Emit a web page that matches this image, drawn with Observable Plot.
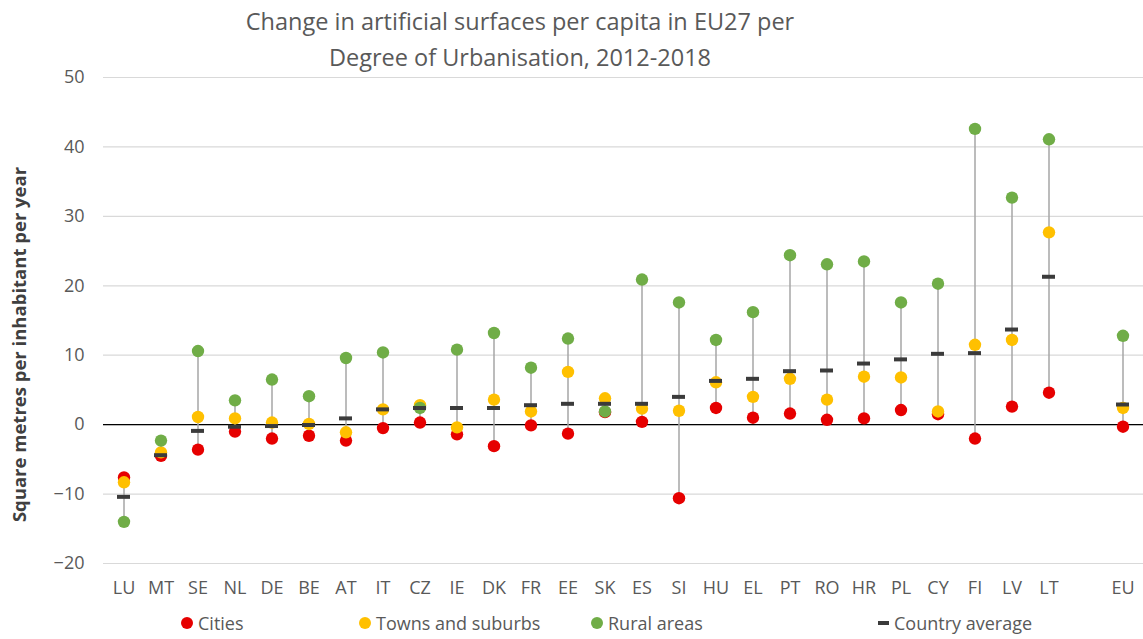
<!DOCTYPE html>
<html>
<head>
<meta charset="utf-8">
<script src="https://cdn.jsdelivr.net/npm/d3@7"></script>
<script src="https://cdn.jsdelivr.net/npm/@observablehq/plot@0.6"></script>
<style>
  body { margin: 0; background: #fff; font-family: "Open Sans", sans-serif; color: #595959; }
  #wrap { position: relative; width: 1143px; height: 639px; overflow: hidden; }
  #title { position: absolute; left: 0; top: 3px; width: 1040px; text-align: center; font-size: 23.5px; line-height: 36px; color: #595959; }
  #chart { position: absolute; left: 0; top: 62px; }
  .leg { position: absolute; top: 611px; font-size: 18px; color: #595959; display: flex; align-items: center; white-space: nowrap; }
  .leg .dot { width: 12px; height: 12px; border-radius: 50%; margin-right: 5px; }
  .leg .bar { width: 11px; height: 4px; background: #3b3b3b; margin-right: 5px; }
</style>
</head>
<body>
<div id="wrap">
  <div id="title">Change in artificial surfaces per capita in EU27 per<br>Degree of Urbanisation, 2012-2018</div>
  <div id="chart"></div>
  <div id="legend"></div>
</div>
<script>
const countries = ["LU","MT","SE","NL","DE","BE","AT","IT","CZ","IE","DK","FR","EE","SK","ES","SI","HU","EL","PT","RO","HR","PL","CY","FI","LV","LT","EU"];
const cities  = [-7.6,-4.5,-3.6,-1.0,-2.0,-1.6,-2.3,-0.5,0.3,-1.4,-3.1,-0.1,-1.3,1.8,0.4,-10.6,2.4,1.0,1.6,0.7,0.9,2.1,1.5,-2.0,2.6,4.6,-0.3];
const towns   = [-8.3,-4.0,1.1,0.9,0.3,0.1,-1.1,2.2,2.8,-0.4,3.6,1.9,7.6,3.8,2.3,2.0,6.1,4.0,6.6,3.6,6.9,6.8,1.9,11.5,12.2,27.7,2.4];
const rural   = [-14.0,-2.3,10.6,3.5,6.5,4.1,9.6,10.4,2.4,10.8,13.2,8.2,12.4,1.9,20.9,17.6,12.2,16.2,24.4,23.1,23.5,17.6,20.3,42.6,32.7,41.1,12.8];
const average = [-10.4,-4.4,-0.9,-0.3,-0.2,-0.05,0.9,2.2,2.4,2.4,2.4,2.8,3.0,3.0,3.0,4.0,6.3,6.6,7.7,7.8,8.8,9.4,10.2,10.3,13.7,21.3,2.9];
const yTicks = [-20,-10,0,10,20,30,40,50];
const yLabel = "Square metres per inhabitant per year";

const series = [
  {name: "Cities", values: cities, color: "#e60000"},
  {name: "Towns and suburbs", values: towns, color: "#ffc000"},
  {name: "Rural areas", values: rural, color: "#70ad47"}
];
const avgColor = "#3b3b3b";

const rows = countries.map((c, i) => ({
  country: c,
  lo: Math.min(cities[i], towns[i], rural[i]),
  hi: Math.max(cities[i], towns[i], rural[i]),
  avg: average[i]
}));
const pts = series.flatMap(s => countries.map((c, i) => ({country: c, value: s.values[i], series: s.name, color: s.color})));

const gap = " ";
const domain = [...countries.slice(0, -1), gap, countries[countries.length - 1]];

const chart = Plot.plot({
  width: 1143,
  height: 546,
  marginLeft: 103,
  marginRight: 0,
  marginTop: 15,
  marginBottom: 45,
  style: {fontFamily: "Open Sans, sans-serif", fontSize: "18px", color: "#595959", background: "transparent"},
  x: {type: "band", domain, padding: 0},
  y: {domain: [-20, 50]},
  marks: [
    Plot.gridY(yTicks, {stroke: "#d9d9d9", strokeOpacity: 1, strokeWidth: 1.2}),
    Plot.ruleY([0], {stroke: "#000", strokeWidth: 1.2}),
    Plot.axisY(yTicks, {tickSize: 0, tickPadding: 19, fontSize: 18, fill: "#595959", label: null}),
    Plot.text([yLabel], {frameAnchor: "left", text: d => d, rotate: -90, dx: -83, dy: 24,
      fontSize: 18.5, fontWeight: "bold", fill: "#404040", textAnchor: "middle"}),
    Plot.axisX({ticks: countries, tickSize: 0, tickPadding: 18, fontSize: 18, fill: "#595959", label: null}),
    Plot.ruleX(rows, {x: "country", y1: "lo", y2: "hi", stroke: "#a6a6a6", strokeWidth: 1.5}),
    Plot.dot(pts, {x: "country", y: "value", r: 6.2, fill: "color", stroke: null}),
    Plot.tickY(rows, {x: "country", y: "avg", stroke: avgColor, strokeWidth: 4, insetLeft: 12, insetRight: 12})
  ]
});
document.getElementById("chart").append(chart);

const legendItems = [
  {label: "Cities", color: "#e60000", x: 181, kind: "dot"},
  {label: "Towns and suburbs", color: "#ffc000", x: 359, kind: "dot"},
  {label: "Rural areas", color: "#70ad47", x: 591, kind: "dot"},
  {label: "Country average", color: avgColor, x: 878, kind: "bar"}
];
const legend = document.getElementById("legend");
for (const it of legendItems) {
  const d = document.createElement("div");
  d.className = "leg";
  d.style.left = it.x + "px";
  const m = document.createElement("span");
  m.className = it.kind;
  m.style.background = it.color;
  d.append(m, document.createTextNode(it.label));
  legend.append(d);
}
</script>
</body>
</html>
